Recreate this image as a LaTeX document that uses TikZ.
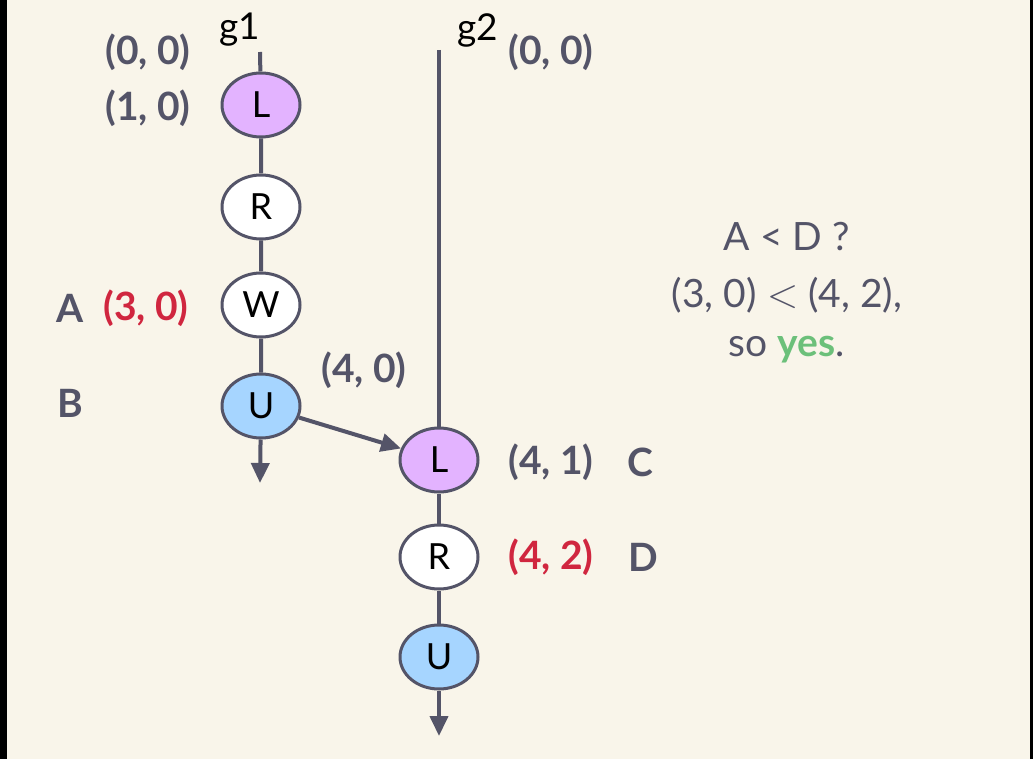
\documentclass[tikz,border=0pt]{standalone}
\usepackage{fontspec}
\setmainfont{Lato}
\usetikzlibrary{shapes.geometric,arrows.meta}
\definecolor{ink}{HTML}{545468}
\definecolor{paper}{HTML}{F9F5EA}
\definecolor{hot}{HTML}{D0263F}
\definecolor{okgreen}{HTML}{6CC07A}
\definecolor{lilac}{HTML}{E3B3FF}
\definecolor{sky}{HTML}{A6D5FF}
\begin{document}
\begin{tikzpicture}[x=0.5pt,y=-0.5pt,
    evt/.style={ellipse,draw=ink,line width=1.5pt,minimum width=39pt,minimum height=32pt,
      inner sep=0pt,font=\fontsize{18}{21}\selectfont},
    wire/.style={draw=ink,line width=2pt},
    tip/.style={-{Triangle[length=10pt,width=9pt]}},
    stamp/.style={text=ink,font=\fontsize{19.5}{22}\selectfont\bfseries},
    note/.style={text=ink,font=\fontsize{19.5}{22}\selectfont}]
    \useasboundingbox (0,0) rectangle (1033,759);
    \fill[black] (0,0) rectangle (1033,759);
    \fill[paper] (7,0) rectangle (1030,759);
    %% goroutine 1
    \node[font=\fontsize{18.5}{21}\selectfont] (g1) at (240,30) {g1};
    \coordinate (top1) at (260,52);
    \coordinate (end1) at (260,483);
    \node[evt,fill=lilac] (l1) at (261,105) {L};
    \node[evt,fill=white] (r1) at (261,207) {R};
    \node[evt,fill=white] (w1) at (261,305) {W};
    \node[evt,fill=sky] (u1) at (261,406) {U};
    \draw[wire] (top1) -- (l1) -- (r1) -- (w1) -- (u1);
    \draw[wire,tip,fill=ink] (u1) -- (end1);
    %% goroutine 2
    \node[font=\fontsize{18.5}{21}\selectfont] (g2) at (478,30) {g2};
    \coordinate (top2) at (439,50);
    \coordinate (end2) at (439,736);
    \node[evt,fill=lilac] (l2) at (439,460) {L};
    \node[evt,fill=white] (r2) at (439,557) {R};
    \node[evt,fill=sky] (u2) at (439,657) {U};
    \draw[wire] (top2) -- (l2) -- (r2) -- (u2);
    \draw[wire,tip,fill=ink] (u2) -- (end2);
    %% sync
    \draw[wire,tip,fill=ink] (u1) -- (l2);
    %% clocks
    \node[stamp] (c00) at (148,52) {(0, 0)};
    \node[stamp] (c10) at (148,108) {(1, 0)};
    \node[stamp] (a) at (70,308) {A};
    \node[stamp,text=hot] (c30) at (146,308) {(3, 0)};
    \node[stamp] (b) at (70,403) {B};
    \node[stamp] (c40) at (364,370) {(4, 0)};
    \node[stamp] (c2) at (551,52) {(0, 0)};
    \node[stamp] (c41) at (551,462) {(4, 1)};
    \node[stamp] (c) at (640,462) {C};
    \node[stamp,text=hot] (c42) at (551,557) {(4, 2)};
    \node[stamp] (d) at (643,557) {D};
    %% question
    \node[note] (q1) at (787,237) {A < D ?};
    \node[note] (q2) at (787,295) {(3, 0) $<$ (4, 2),};
    \node[note] (q3) at (787,350) {so \textbf{\color{okgreen}yes}.};
\end{tikzpicture}
\end{document}
